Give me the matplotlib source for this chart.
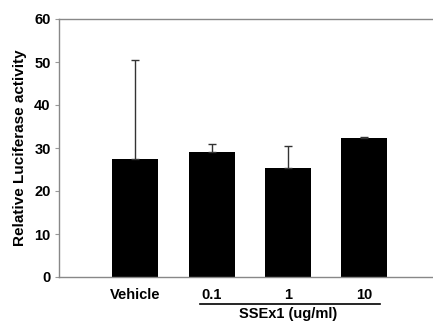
import matplotlib
matplotlib.use("Agg")
import matplotlib.pyplot as plt

categories = ["Vehicle", "0.1", "1", "10"]
means = [27.4, 29.1, 25.4, 32.4]
errors = [23.1, 1.8, 5.1, 0.2]
group_label = "SSEx1 (ug/ml)"

plt.rcParams["font.family"] = ["Liberation Sans", "DejaVu Sans"]
plt.rcParams["font.weight"] = "bold"

fig = plt.figure(figsize=(4.33, 3.22), dpi=100)
ax = fig.add_axes([59 / 433, 1 - 277 / 322, 374 / 433, 258 / 322])

x = list(range(len(categories)))
ax.bar(x, means, 0.6, color="black", zorder=2)
ax.errorbar(x, means, yerr=[[0] * len(errors), errors], fmt="none",
            ecolor="#333333", elinewidth=1, capsize=3, capthick=1, zorder=3)

ax.set_xlim(-1.0, 3.9)
ax.set_ylim(0, 60)
ax.set_yticks(range(0, 61, 10))
ax.set_xticks(x)
ax.set_xticklabels(categories, fontsize=10.5, fontweight="bold")
ax.tick_params(axis="x", length=0, pad=8)
ax.tick_params(axis="y", length=3, width=0.8, color="#999999", labelsize=10.5, pad=3)
for lab in ax.get_yticklabels():
    lab.set_fontweight("bold")
ax.set_ylabel("Relative Luciferase activity", fontsize=11, fontweight="bold", labelpad=5)

for side in ("left", "bottom", "top"):
    ax.spines[side].set_color("#888888")
    ax.spines[side].set_linewidth(1)
ax.spines["right"].set_visible(False)

# group bracket under the doses
trans = ax.get_xaxis_transform()
ax.plot([0.85, 3.2], [-0.103, -0.103], transform=trans, color="black",
        linewidth=1.2, clip_on=False)
ax.text(2, -0.142, group_label, transform=trans, ha="center", va="center",
        fontsize=10.5, fontweight="bold")

fig.savefig("out.png", dpi=100)
